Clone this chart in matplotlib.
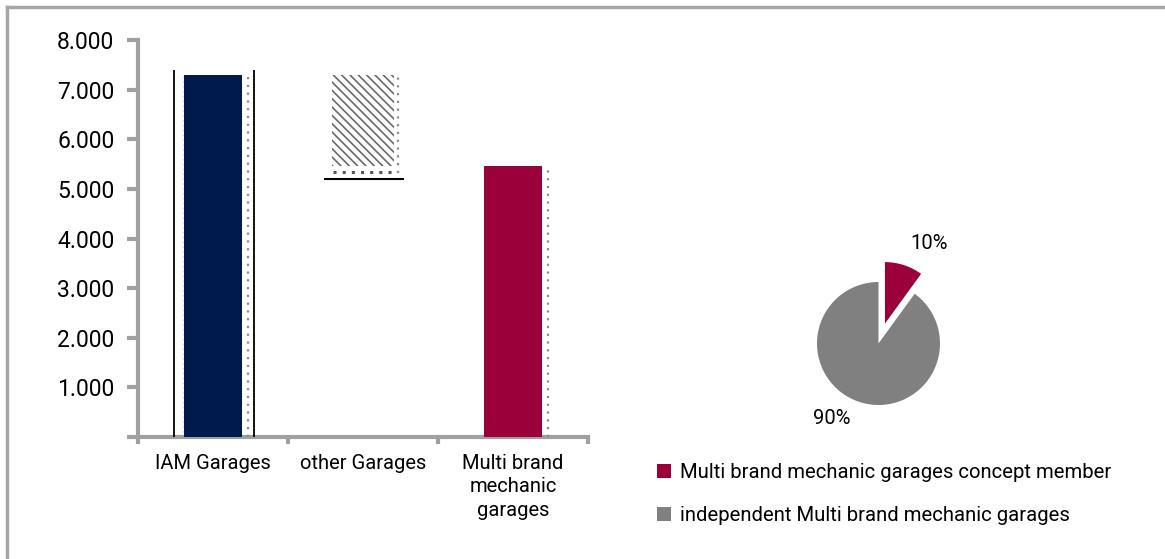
import matplotlib
matplotlib.use('Agg')
import matplotlib.pyplot as plt
from matplotlib.lines import Line2D
from matplotlib.ticker import FuncFormatter
import numpy as np

plt.rcParams['font.family'] = ['Roboto', 'DejaVu Sans']
plt.rcParams['hatch.linewidth'] = 1.2
plt.rcParams['hatch.color'] = '#6A6A6A'

# data
categories = ['IAM Garages', 'other Garages', 'Multi brand\nmechanic\ngarages']
iam_total = 7300
iam_high = 7400
multi_brand = 5470
other_low = 5200
other_garages = iam_total - multi_brand
pie_values = [10, 90]
pie_labels = ['Multi brand mechanic garages concept member',
              'independent Multi brand mechanic garages']
pie_pct = ['10%', '90%']

navy = '#001A4D'
wine = '#9B003A'
grey = '#808080'
axis_grey = '#A0A0A0'
dot_grey = '#8C8C8C'

fig = plt.figure(figsize=(11.65, 5.59), dpi=100)

# bar chart
ax = fig.add_axes([138/1165, 1-437/559, 450/1165, 397/559])
x = np.arange(len(categories))
w = 0.39

ax.bar(x[0], iam_total, width=w, color=navy, zorder=3)
ax.bar(x[1], other_garages, bottom=multi_brand, width=0.41, color='white',
       hatch='\\\\\\\\', edgecolor='#6A6A6A', linewidth=0, zorder=3)
ax.bar(x[2], multi_brand, width=w, color=wine, zorder=3)

# dotted outlines on right side
ax.vlines(x[0] + 0.23, 0, iam_total, colors=dot_grey, linestyles=(0, (1, 2.5)), lw=1.6, zorder=4)
ax.vlines(x[0] - 0.2, 0, iam_total, colors='#D8D8D8', linestyles=(0, (1, 2.5)), lw=1, zorder=2)
ax.vlines(x[1] + 0.23, multi_brand - 150, iam_total, colors=dot_grey, linestyles=(0, (1, 2.5)), lw=1.6, zorder=4)
ax.hlines(multi_brand - 120, x[1] - 0.2, x[1] + 0.22, colors='#555555', linestyles=(0, (1, 2)), lw=2.2, zorder=4)
ax.vlines(x[2] + 0.23, 0, multi_brand, colors=dot_grey, linestyles=(0, (1, 2.5)), lw=1.6, zorder=4)

# black range lines
ax.vlines([x[0] - 0.263, x[0] + 0.27], 0, iam_high, colors='black', lw=1.3, zorder=4)
ax.hlines(other_low, x[1] - 0.26, x[1] + 0.27, colors='black', lw=1.5, zorder=4)

ax.set_xlim(-0.5, 2.5)
ax.set_ylim(0, 8000)
ax.set_yticks(np.arange(0, 8001, 1000))
ax.yaxis.set_major_formatter(FuncFormatter(lambda v, p: '' if v == 0 else f'{v:,.0f}'.replace(',', '.')))
ax.set_xticks(x)
ax.set_xticklabels(categories, fontsize=14.5, linespacing=1.3)
ax.set_xticks(np.arange(-0.5, 3, 1), minor=True)
ax.tick_params(axis='x', which='major', length=0, pad=12)
ax.tick_params(axis='x', which='minor', length=5, width=3, color=axis_grey, direction='out')
ax.tick_params(axis='y', length=8, width=3, color=axis_grey, labelsize=16.5, pad=9)
for s in ['top', 'right']:
    ax.spines[s].set_visible(False)
for s in ['left', 'bottom']:
    ax.spines[s].set_color(axis_grey)
    ax.spines[s].set_linewidth(3)

# pie chart
r = 61.5
pax = fig.add_axes([(878.5 - 2*r)/1165, (559 - 343.5 - 2*r)/559, 4*r/1165, 4*r/559])
wedges, _ = pax.pie(pie_values, colors=[wine, grey], startangle=90, counterclock=False,
                    explode=[0.34, 0], radius=1)
pax.set_xlim(-2, 2)
pax.set_ylim(-2, 2)
pax.set_aspect('equal')
pax.axis('off')
pax.text(0.82, 1.63, pie_pct[0], ha='center', va='center', fontsize=14.5)
pax.text(-0.76, -1.22, pie_pct[1], ha='center', va='center', fontsize=14.5)

fig.legend(wedges, pie_labels, loc='upper left', bbox_to_anchor=(649/1165, 1-455/559),
           frameon=False, fontsize=14.6, handlelength=0.7, handleheight=0.7,
           handletextpad=0.45, labelspacing=1.2, borderaxespad=0)

# frame
fig.add_artist(Line2D([7/1165, 1], [1-7/559, 1-7/559], color='#A6A6A6', lw=2.5))
fig.add_artist(Line2D([7/1165, 7/1165], [0, 1-7/559], color='#A6A6A6', lw=2.5))

fig.savefig('out.png', dpi=100)
